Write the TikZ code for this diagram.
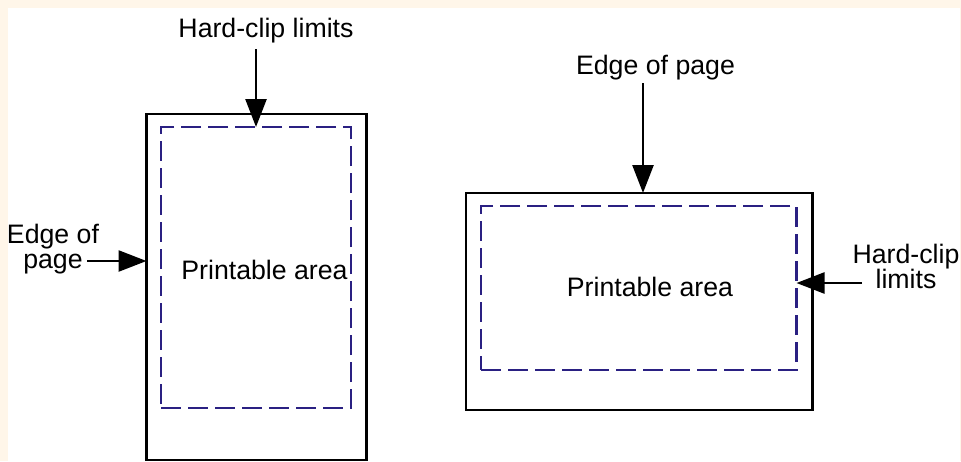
\documentclass[tikz,border=0pt]{standalone}
\usepackage{fontspec}
\setmainfont{Liberation Sans}
\usetikzlibrary{arrows.meta}
\definecolor{cream}{HTML}{FFF6E9}
\definecolor{clipblue}{HTML}{2A2082}
\tikzset{
  pagebox/.style={draw=black, line width=2.5pt, minimum width=#1, inner sep=0pt, outer sep=0pt},
  clipbox/.style={draw=clipblue, line width=2.4pt, dash pattern=on 20pt off 7pt, inner sep=0pt, outer sep=0pt},
  lbl/.style={font=\fontsize{26.7}{25}\selectfont, inner sep=0pt, outer sep=0pt, align=center},
  pointer/.style={draw=black, line width=2.5pt, -{Triangle[length=28pt,width=21pt]}}
}
\begin{document}
\begin{tikzpicture}[x=1pt,y=-1pt]
\useasboundingbox (0,0) rectangle (961,461);
\fill[cream] (0,0) rectangle (961,461);
\fill[white] (8,8) rectangle (960,461);

% left (portrait) page
\node[pagebox=220pt, minimum height=346pt] (Lpage) at (256.5,287) {};
\node[clipbox, minimum width=190pt, minimum height=281pt] (Lclip) at (256,267.5) {};
\node[lbl, anchor=base] (Lhcl) at (266,37) {Hard-clip limits};
\node[lbl, anchor=north] (Ledge) at (53,224) {Edge of\\page};
\node[lbl, anchor=base] (Lprint) at (264.5,279) {Printable area};
\coordinate (LhclT) at (256,49);
\coordinate (LedgeT) at (87,261);
\draw[pointer] (LhclT) -- (LhclT |- Lclip.north);
\draw[pointer] (LedgeT) -- (LedgeT -| Lpage.west);

% right (landscape) page
\node[pagebox=346.5pt, minimum height=217pt] (Rpage) at (639.25,301.5) {};
\node[clipbox, minimum width=315.5pt, minimum height=164pt] (Rclip) at (638.75,288) {};
\node[lbl, anchor=base] (Redge) at (655.5,74) {Edge of page};
\node[lbl, anchor=north] (Rhcl) at (906,244) {Hard-clip\\limits};
\node[lbl, anchor=base] (Rprint) at (650,296) {Printable area};
\coordinate (RedgeT) at (643,83);
\coordinate (RhclT) at (862,283);
\draw[pointer] (RedgeT) -- (RedgeT |- Rpage.north);
\draw[pointer] (RhclT) -- (RhclT -| Rclip.east);
\end{tikzpicture}
\end{document}
